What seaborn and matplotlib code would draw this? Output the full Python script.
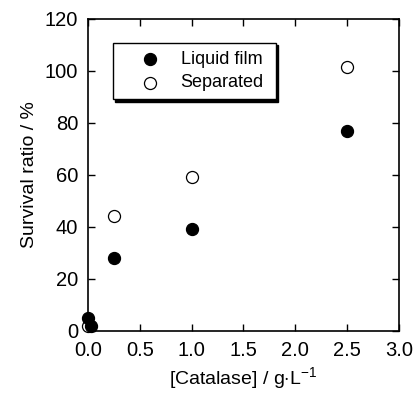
import matplotlib
matplotlib.use("Agg")
import matplotlib.pyplot as plt
import seaborn as sns
import pandas as pd

catalase_liquid = [0.0, 0.03, 0.25, 1.0, 2.5]
survival_liquid = [5.0, 2.0, 28.0, 39.0, 77.0]
catalase_sep = [0.0, 0.25, 1.0, 2.5]
survival_sep = [1.8, 44.0, 59.0, 101.5]
x_ticks = [0.0, 0.5, 1.0, 1.5, 2.0, 2.5, 3.0]
y_ticks = [0, 20, 40, 60, 80, 100, 120]

sns.set_style("ticks")
plt.rcParams['font.family'] = ['Liberation Sans', 'DejaVu Sans']
plt.rcParams['text.color'] = 'black'
plt.rcParams['axes.labelcolor'] = 'black'
plt.rcParams['mathtext.fontset'] = 'custom'
plt.rcParams['mathtext.rm'] = 'Liberation Sans'
plt.rcParams['mathtext.sf'] = 'Liberation Sans'

df_l = pd.DataFrame({"x": catalase_liquid, "y": survival_liquid})
df_s = pd.DataFrame({"x": catalase_sep, "y": survival_sep})

fig = plt.figure(figsize=(4.16, 3.93), dpi=100)
ax = fig.add_axes([0.2115, 0.158, 0.7475, 0.794])

sns.scatterplot(data=df_s, x="x", y="y", ax=ax, marker="o", s=75,
                facecolor="white", edgecolor="black", linewidth=0.9,
                label="Separated", zorder=3, clip_on=False)
sns.scatterplot(data=df_l, x="x", y="y", ax=ax, marker="o", s=75,
                color="black", edgecolor="black", linewidth=0.9,
                label="Liquid film", zorder=4, clip_on=False)

ax.set_xlim(0, 3.0)
ax.set_ylim(0, 120)
ax.set_xticks(x_ticks)
ax.set_xticklabels([f"{v:.1f}" for v in x_ticks])
ax.set_yticks(y_ticks)
ax.tick_params(direction="in", top=True, right=True, length=5, width=1,
               labelsize=14.5, colors="black", pad=7)
for sp in ax.spines.values():
    sp.set_linewidth(1.2)
    sp.set_color("black")

ax.set_xlabel(r"[Catalase] / g$\cdot$L$^{\mathsf{-1}}$", fontsize=14, labelpad=4)
ax.set_ylabel("Survival ratio / %", fontsize=14, labelpad=5)

handles, labels = ax.get_legend_handles_labels()
order = [labels.index("Liquid film"), labels.index("Separated")]
leg = ax.legend([handles[i] for i in order], [labels[i] for i in order],
                loc="upper left", bbox_to_anchor=(0.08, 0.923, 0.525, 0.0),
                mode="expand",
                fontsize=13, frameon=True, fancybox=False,
                shadow={"color": "black", "alpha": 1.0, "ox": 1.5, "oy": -1.5},
                edgecolor="black", borderpad=0.45, labelspacing=0.35,
                handletextpad=0.1, borderaxespad=0, handlelength=3.2)
leg.get_frame().set_linewidth(1.0)
leg.get_frame().set_alpha(1.0)
for t in leg.get_texts():
    t.set_color("black")

fig.savefig("out.png", dpi=100)
